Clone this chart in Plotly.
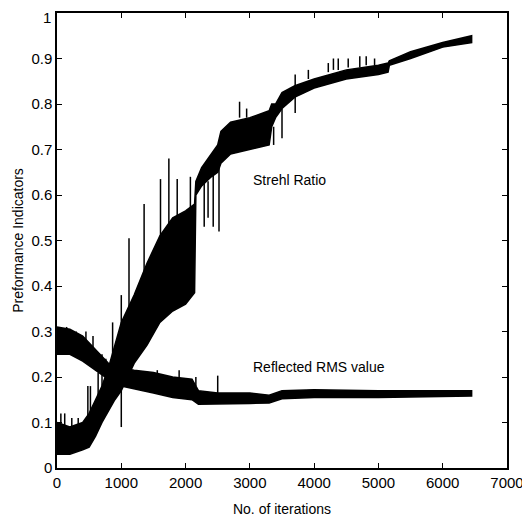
import plotly.graph_objects as go

# ---- Data (envelopes of the noisy traces) ----
strehl_x = [0, 200, 400, 500, 600, 700, 800, 900, 1000, 1100, 1200, 1400, 1600, 1800, 2000, 2140,
            2160, 2250, 2400, 2500, 2550, 2700, 3000, 3300, 3340, 3400, 3500, 3700, 4000, 4500,
            5000, 5150, 5170, 5500, 6000, 6450]
strehl_upper = [0.10, 0.09, 0.10, 0.12, 0.15, 0.18, 0.22, 0.27, 0.32, 0.35, 0.38, 0.45, 0.51, 0.55,
                0.565, 0.58, 0.63, 0.66, 0.69, 0.71, 0.74, 0.76, 0.77, 0.785, 0.80, 0.80, 0.825,
                0.84, 0.855, 0.875, 0.885, 0.89, 0.895, 0.915, 0.935, 0.95]
strehl_lower = [0.03, 0.03, 0.04, 0.046, 0.07, 0.10, 0.125, 0.15, 0.17, 0.20, 0.23, 0.27, 0.32, 0.345,
                0.36, 0.385, 0.60, 0.62, 0.64, 0.65, 0.67, 0.69, 0.70, 0.71, 0.75, 0.77, 0.79,
                0.815, 0.835, 0.855, 0.865, 0.87, 0.885, 0.90, 0.925, 0.935]

rms_x = [0, 200, 400, 600, 800, 1000, 1200, 1500, 1800, 2100, 2200, 2500, 3000, 3300, 3500, 4000,
         5000, 6450]
rms_upper = [0.31, 0.305, 0.29, 0.26, 0.23, 0.22, 0.215, 0.21, 0.20, 0.195, 0.17, 0.165, 0.165,
             0.16, 0.17, 0.172, 0.17, 0.17]
rms_lower = [0.25, 0.25, 0.235, 0.215, 0.195, 0.18, 0.175, 0.165, 0.155, 0.15, 0.14, 0.14, 0.142,
             0.143, 0.152, 0.155, 0.155, 0.158]

# isolated spikes (x, start, end)
spike_x = [60, 120, 230, 330, 480, 520, 640, 700, 865, 1000, 1000, 1120, 1355, 1610, 1740, 1870,
           2075, 2290, 2350, 2430, 2520, 2840, 2950, 3370, 3500, 3705, 3705, 3910, 4220, 4300,
           4375, 4530, 4710, 4810, 4940, 2160, 2500, 150, 300, 450, 560, 760, 1560, 1900]
spike_from = [0.08, 0.08, 0.08, 0.08, 0.11, 0.12, 0.15, 0.17, 0.22, 0.30, 0.18, 0.33, 0.42, 0.50,
              0.53, 0.55, 0.57, 0.63, 0.63, 0.65, 0.66, 0.77, 0.77, 0.75, 0.79, 0.82, 0.84, 0.855,
              0.87, 0.875, 0.875, 0.88, 0.88, 0.885, 0.885, 0.18, 0.165, 0.28, 0.27, 0.26, 0.25,
              0.22, 0.20, 0.19]
spike_to = [0.12, 0.12, 0.11, 0.11, 0.18, 0.18, 0.21, 0.25, 0.32, 0.38, 0.09, 0.505, 0.58, 0.635,
            0.68, 0.635, 0.64, 0.53, 0.55, 0.53, 0.52, 0.805, 0.79, 0.71, 0.725, 0.78, 0.865,
            0.875, 0.89, 0.90, 0.90, 0.90, 0.905, 0.905, 0.90, 0.20, 0.203, 0.31, 0.30, 0.30,
            0.29, 0.24, 0.215, 0.215]

x_ticks = [0, 1000, 2000, 3000, 4000, 5000, 6000, 7000]
y_ticks = [0, 0.1, 0.2, 0.3, 0.4, 0.5, 0.6, 0.7, 0.8, 0.9, 1]
y_tick_labels = ["0", "0.1", "0.2", "0.3", "0.4", "0.5", "0.6", "0.7", "0.8", "0.9", "1"]

fig = go.Figure()


def band(xs, up, lo, name):
    fig.add_trace(go.Scatter(
        x=list(xs) + list(xs)[::-1],
        y=list(up) + list(lo)[::-1],
        fill="toself", fillcolor="black",
        line=dict(color="black", width=1.5),
        mode="lines", name=name, showlegend=False, hoverinfo="skip"))


band(strehl_x, strehl_upper, strehl_lower, "Strehl Ratio")
band(rms_x, rms_upper, rms_lower, "Reflected RMS value")

sx, sy = [], []
for x, a, b in zip(spike_x, spike_from, spike_to):
    sx += [x, x, None]
    sy += [a, b, None]
fig.add_trace(go.Scatter(x=sx, y=sy, mode="lines", line=dict(color="black", width=1.5),
                         showlegend=False, hoverinfo="skip"))

fig.add_annotation(x=3610, y=0.633, text="Strehl Ratio", showarrow=False,
                   font=dict(size=14, color="black"))
fig.add_annotation(x=4080, y=0.222, text="Reflected RMS value", showarrow=False,
                   font=dict(size=14, color="black"))

# the top tick label is drawn as an annotation, nudged down slightly so it is not clipped
top_label = y_tick_labels[-1]
shown_labels = y_tick_labels[:-1] + [""]
fig.add_annotation(xref="paper", x=0, y=y_ticks[-1], text=top_label, showarrow=False,
                   xanchor="right", xshift=-4, yshift=-4, font=dict(size=15, color="black"))

axis_common = dict(showline=True, linecolor="black", linewidth=1.5, mirror="ticks",
                   ticks="inside", ticklen=5, tickcolor="black", tickwidth=1,
                   showgrid=False, zeroline=False, automargin=False,
                   ticklabeloverflow="allow",
                   tickfont=dict(size=15, color="black"))

fig.update_xaxes(range=[0, 7000], tickvals=x_ticks, ticktext=[str(v) for v in x_ticks],
                 title=dict(text="No. of iterations", font=dict(size=14, color="black"), standoff=14),
                 **axis_common)
fig.update_yaxes(range=[0, 1], tickvals=y_ticks, ticktext=shown_labels,
                 title=dict(text="Preformance Indicators", font=dict(size=14, color="black"), standoff=4),
                 **axis_common)

fig.update_layout(width=522, height=512, plot_bgcolor="white", paper_bgcolor="white",
                  margin=dict(l=49, r=23, t=5, b=52),
                  font=dict(family="Liberation Sans, Arial, sans-serif", color="black"))

fig.write_html("out.html")
